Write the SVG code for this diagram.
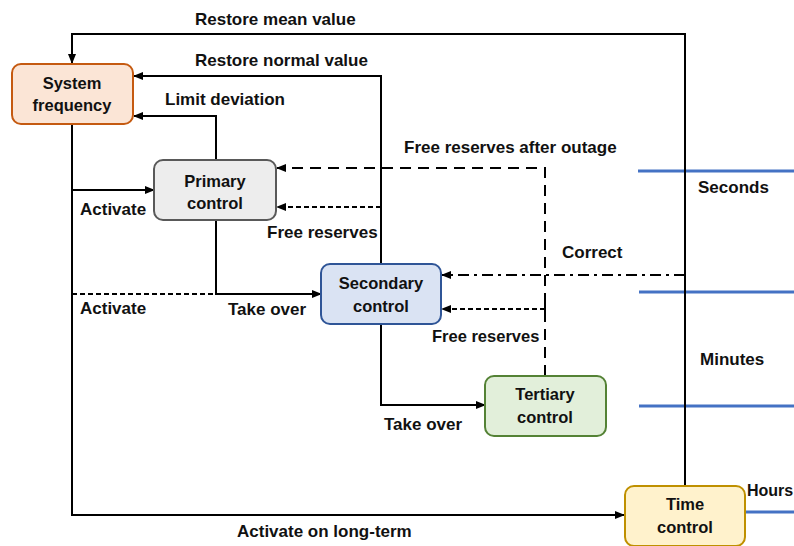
<svg xmlns="http://www.w3.org/2000/svg" width="794" height="546" viewBox="0 0 794 546">
<defs>
<style>
text{font-family:"Liberation Sans",Arial,sans-serif;font-weight:bold;fill:#111;}
.lbl{font-size:17px;}
.node text{font-size:16.5px;text-anchor:middle;}
.ln{fill:none;stroke:#000;stroke-width:2;}
.ld{stroke-dasharray:11 7;}
.sd{stroke-dasharray:5 3;}
.dd{stroke-dasharray:11 5 3 5;}
.blue{stroke:#4472c4;stroke-width:3;fill:none;}
</style>
<marker id="ah" markerWidth="10" markerHeight="10" refX="9" refY="5" orient="auto" markerUnits="userSpaceOnUse">
<path d="M0,1 L10,5 L0,9 Z" fill="#000"/>
</marker>
</defs>
<rect width="794" height="546" fill="#fff"/>

<g id="timescale">
<line class="blue" x1="638" y1="171" x2="794" y2="171"/>
<line class="blue" x1="639" y1="292" x2="794" y2="292"/>
<line class="blue" x1="639" y1="406" x2="794" y2="406"/>
<line class="blue" x1="746" y1="512" x2="794" y2="512"/>
</g>

<g id="connectors">
<polyline class="ln" points="685,486 685,34 72,34 72,63" marker-end="url(#ah)"/>
<polyline class="ln" points="381,264 381,76 134,76" marker-end="url(#ah)"/>
<polyline class="ln" points="216,160 216,116 134,116" marker-end="url(#ah)"/>
<polyline class="ln" points="72,124 72,515 624,515" marker-end="url(#ah)"/>
<polyline class="ln" points="72,190 154,190" marker-end="url(#ah)"/>
<line class="ln sd" x1="72" y1="294" x2="216" y2="294"/>
<polyline class="ln" points="216,220 216,294 321,294" marker-end="url(#ah)"/>
<polyline class="ln" points="381,324 381,405 485,405" marker-end="url(#ah)"/>
<polyline class="ln ld" points="545,376 545,168 277,168" marker-end="url(#ah)"/>
<line class="ln sd" x1="381" y1="207" x2="277" y2="207" marker-end="url(#ah)"/>
<line class="ln dd" x1="685" y1="275" x2="442" y2="275" marker-end="url(#ah)"/>
<line class="ln sd" x1="545" y1="309" x2="442" y2="309" marker-end="url(#ah)"/>
<line class="ln" x1="545" y1="302" x2="545" y2="316"/>
</g>

<g id="system-frequency" class="node">
<rect x="12" y="64" width="121" height="60" rx="9" fill="#fbe5d6" stroke="#c55a11" stroke-width="2"/>
<text x="72" y="89">System</text>
<text x="72" y="111">frequency</text>
</g>
<g id="primary-control" class="node">
<rect x="154" y="160" width="122" height="60" rx="9" fill="#ededed" stroke="#595959" stroke-width="2"/>
<text x="215" y="187">Primary</text>
<text x="215" y="209">control</text>
</g>
<g id="secondary-control" class="node">
<rect x="321" y="264" width="120" height="60" rx="9" fill="#dae3f3" stroke="#2f5597" stroke-width="2"/>
<text x="381" y="289">Secondary</text>
<text x="381" y="312">control</text>
</g>
<g id="tertiary-control" class="node">
<rect x="485" y="376" width="121" height="60" rx="9" fill="#e2efda" stroke="#548235" stroke-width="2"/>
<text x="545" y="400">Tertiary</text>
<text x="545" y="423">control</text>
</g>
<g id="time-control" class="node">
<rect x="625" y="486" width="120" height="60" rx="9" fill="#fff2cc" stroke="#bf9000" stroke-width="2"/>
<text x="685" y="510">Time</text>
<text x="685" y="533">control</text>
</g>

<g id="labels" class="lbl">
<text x="195" y="25">Restore mean value</text>
<text x="195" y="66">Restore normal value</text>
<text x="165" y="105">Limit deviation</text>
<text x="404" y="153">Free reserves after outage</text>
<text x="80" y="215">Activate</text>
<text x="267" y="238">Free reserves</text>
<text x="698" y="193">Seconds</text>
<text x="562" y="258">Correct</text>
<text x="80" y="314">Activate</text>
<text x="228" y="315">Take over</text>
<text x="432" y="342" style="font-size:16.5px">Free reserves</text>
<text x="700" y="365">Minutes</text>
<text x="384" y="430">Take over</text>
<text x="747" y="496" font-size="16" style="font-size:16px">Hours</text>
<text x="237" y="537">Activate on long-term</text>
</g>
</svg>
